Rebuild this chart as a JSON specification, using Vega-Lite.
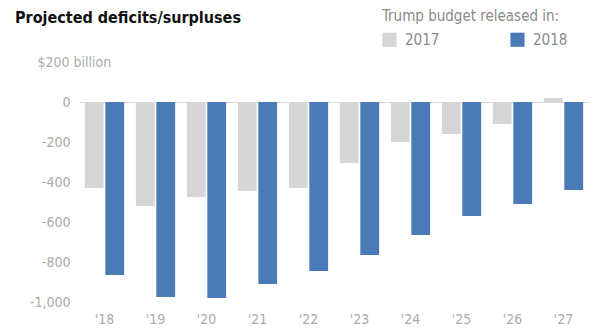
{
  "$schema": "https://vega.github.io/schema/vega-lite/v6.json",
  "width": 510,
  "height": 240,
  "padding": {"left": 79, "top": 62, "right": 11, "bottom": 32},
  "autosize": {"type": "none"},
  "background": "white",
  "title": {
    "text": "Projected deficits/surpluses",
    "anchor": "start",
    "frame": "group",
    "font": "DejaVu Sans Condensed",
    "fontSize": 16,
    "fontWeight": "bold",
    "color": "#111",
    "dx": -64,
    "offset": 0,
    "dy": 17
  },
  "data": {
    "values": [
      {"year": "'18", "budget": "2017", "value": -430},
      {"year": "'18", "budget": "2018", "value": -865},
      {"year": "'19", "budget": "2017", "value": -520},
      {"year": "'19", "budget": "2018", "value": -975},
      {"year": "'20", "budget": "2017", "value": -475},
      {"year": "'20", "budget": "2018", "value": -980},
      {"year": "'21", "budget": "2017", "value": -445},
      {"year": "'21", "budget": "2018", "value": -910},
      {"year": "'22", "budget": "2017", "value": -430},
      {"year": "'22", "budget": "2018", "value": -845},
      {"year": "'23", "budget": "2017", "value": -305},
      {"year": "'23", "budget": "2018", "value": -765},
      {"year": "'24", "budget": "2017", "value": -200},
      {"year": "'24", "budget": "2018", "value": -665},
      {"year": "'25", "budget": "2017", "value": -160},
      {"year": "'25", "budget": "2018", "value": -570},
      {"year": "'26", "budget": "2017", "value": -110},
      {"year": "'26", "budget": "2018", "value": -510},
      {"year": "'27", "budget": "2017", "value": 20},
      {"year": "'27", "budget": "2018", "value": -440}
    ]
  },
  "mark": {"type": "bar"},
  "encoding": {
    "x": {
      "field": "year",
      "type": "nominal",
      "sort": null,
      "scale": {"paddingInner": 0.23, "paddingOuter": 0.115},
      "axis": {
        "title": null,
        "labelAngle": 0,
        "ticks": false,
        "domain": false,
        "labelFont": "DejaVu Sans Condensed",
        "labelFontSize": 14,
        "labelColor": "#ababab",
        "labelPadding": 10
      }
    },
    "xOffset": {"field": "budget", "type": "nominal", "scale": {"paddingInner": 0.08}},
    "y": {
      "field": "value",
      "type": "quantitative",
      "scale": {"domain": [-1000, 200], "nice": false},
      "axis": {
        "title": null,
        "values": [200, 0, -200, -400, -600, -800, -1000],
        "labelExpr": "datum.value == 200 ? '$200 billion' : (datum.value < 0 ? '-' + format(-datum.value, ',') : format(datum.value, ','))",
        "ticks": false,
        "domain": false,
        "grid": true,
        "gridColor": {"condition": {"test": "datum.value == 0", "value": "#d8d8d8"}, "value": "#ffffff"},
        "gridWidth": 1,
        "labelFont": "DejaVu Sans Condensed",
        "labelFontSize": 14,
        "labelColor": "#ababab",
        "labelAlign": {"condition": {"test": "datum.value == 200", "value": "left"}, "value": "right"},
        "labelPadding": {"condition": {"test": "datum.value == 200", "value": 42}, "value": 9}
      }
    },
    "color": {
      "field": "budget",
      "type": "nominal",
      "scale": {"domain": ["2017", "2018"], "range": ["#d6d6d6", "#4a7bb7"]},
      "legend": {
        "title": "Trump budget released in:",
        "orient": "none",
        "legendX": 303,
        "legendY": -53,
        "direction": "horizontal",
        "columns": 2,
        "columnPadding": 70,
        "symbolType": "square",
        "symbolSize": 200,
        "symbolStrokeWidth": 0,
        "titleFont": "DejaVu Sans Condensed",
        "titleFontSize": 15,
        "titleFontWeight": "normal",
        "titleColor": "#8a8a8a",
        "titlePadding": 8,
        "labelFont": "DejaVu Sans Condensed",
        "labelFontSize": 15,
        "labelColor": "#8a8a8a",
        "labelOffset": 8
      }
    }
  },
  "config": {"view": {"stroke": null}}
}
